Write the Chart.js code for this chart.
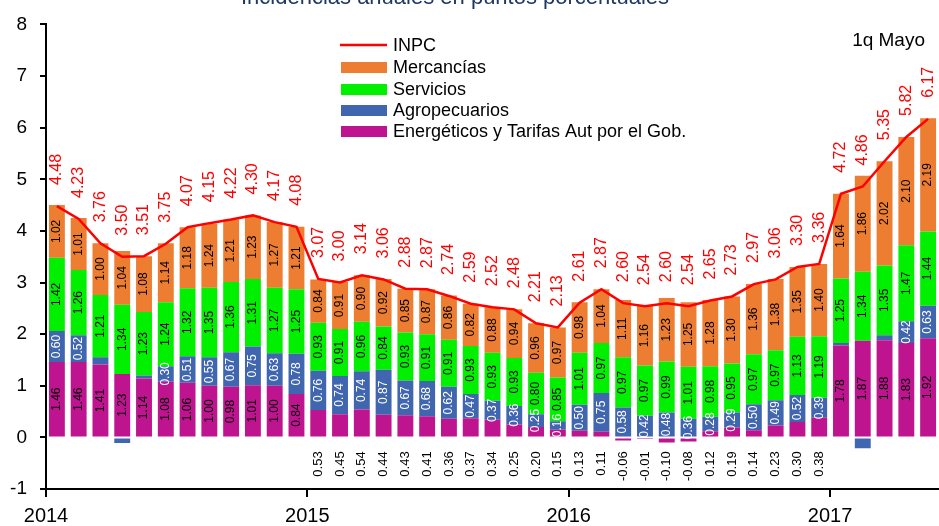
<!DOCTYPE html>
<html>
<head>
<meta charset="utf-8">
<script src="https://cdn.jsdelivr.net/npm/chart.js@4.4.1/dist/chart.umd.min.js"></script>
<style>
  html, body { margin: 0; padding: 0; background: #ffffff; }
  #wrap { width: 939px; height: 526px; position: relative; }
</style>
</head>
<body>
<div id="wrap"><canvas id="c" width="939" height="526"></canvas></div>
<script>
const categories = ['Ene-14','Feb-14','Mar-14','Abr-14','May-14','Jun-14','Jul-14','Ago-14','Sep-14','Oct-14','Nov-14','Dic-14',
  'Ene-15','Feb-15','Mar-15','Abr-15','May-15','Jun-15','Jul-15','Ago-15','Sep-15','Oct-15','Nov-15','Dic-15',
  'Ene-16','Feb-16','Mar-16','Abr-16','May-16','Jun-16','Jul-16','Ago-16','Sep-16','Oct-16','Nov-16','Dic-16',
  'Ene-17','Feb-17','Mar-17','Abr-17','1q May-17'];
const yearLabels = ['2014','2015','2016','2017'];
const yearTickValues = [-0.5, 11.5, 23.5, 35.5];

const inpc = [4.48,4.23,3.76,3.50,3.51,3.75,4.07,4.15,4.22,4.30,4.17,4.08,
  3.07,3.00,3.14,3.06,2.88,2.87,2.74,2.59,2.52,2.48,2.21,2.13,
  2.61,2.87,2.60,2.54,2.60,2.54,2.65,2.73,2.97,3.06,3.30,3.36,
  4.72,4.86,5.35,5.82,6.17];
const mercancias = [1.02,1.01,1.00,1.04,1.08,1.14,1.18,1.24,1.21,1.23,1.27,1.21,
  0.84,0.91,0.90,0.92,0.85,0.87,0.86,0.82,0.88,0.94,0.96,0.97,
  0.98,1.04,1.11,1.16,1.23,1.25,1.28,1.30,1.36,1.38,1.35,1.40,
  1.64,1.86,2.02,2.10,2.19];
const servicios = [1.42,1.26,1.21,1.34,1.23,1.24,1.32,1.35,1.36,1.31,1.27,1.25,
  0.93,0.91,0.96,0.84,0.93,0.91,0.91,0.93,0.93,0.93,0.80,0.85,
  1.01,0.97,0.97,0.97,0.99,1.01,0.98,0.95,0.97,0.97,1.13,1.19,
  1.25,1.34,1.35,1.47,1.44];
const agropecuarios = [0.60,0.52,0.14,-0.11,0.06,0.30,0.51,0.55,0.67,0.75,0.63,0.78,
  0.76,0.74,0.74,0.87,0.67,0.68,0.62,0.47,0.37,0.36,0.25,0.16,
  0.50,0.75,0.58,0.42,0.48,0.36,0.28,0.29,0.50,0.49,0.52,0.39,
  0.05,-0.21,0.10,0.42,0.63];
const energeticos = [1.46,1.46,1.41,1.23,1.14,1.08,1.06,1.00,0.98,1.01,1.00,0.84,
  0.53,0.45,0.54,0.44,0.43,0.41,0.36,0.37,0.34,0.25,0.20,0.15,
  0.13,0.11,-0.06,-0.01,-0.10,-0.08,0.12,0.19,0.14,0.23,0.30,0.38,
  1.78,1.87,1.88,1.83,1.92];

const COL = {
  inpc: '#FF0000',
  merc: '#ED7D31',
  serv: '#00F000',
  agro: '#4066B0',
  ener: '#BE1490'
};
const FONT = '"Liberation Sans", Arial, sans-serif';

const labelsPlugin = {
  id: 'valueLabels',
  afterDatasetsDraw(chart) {
    const ctx = chart.ctx;
    const y = chart.scales.y;
    const zeroPx = y.getPixelForValue(0);
    ctx.save();
    chart.data.datasets.forEach((ds, di) => {
      const meta = chart.getDatasetMeta(di);
      if (ds.type === 'line') {
        ctx.fillStyle = COL.inpc;
        ctx.font = '16px ' + FONT;
        ctx.textBaseline = 'middle';
        ctx.textAlign = 'left';
        meta.data.forEach((pt, i) => {
          ctx.save();
          ctx.translate(pt.x, pt.y - 21);
          ctx.rotate(-Math.PI / 2);
          ctx.fillText(inpc[i].toFixed(2), 0, 0);
          ctx.restore();
        });
        return;
      }
      meta.data.forEach((bar, i) => {
        const v = ds.data[i];
        const txt = v.toFixed(2);
        ctx.save();
        if (ds.key === 'ener' && Math.abs(v) < 0.6) {
          ctx.font = '13px ' + FONT;
          ctx.fillStyle = '#000000';
          ctx.textBaseline = 'middle';
          ctx.textAlign = 'right';
          ctx.translate(bar.x, zeroPx + 14);
          ctx.rotate(-Math.PI / 2);
          ctx.fillText(txt, 0, 0);
          ctx.restore();
          return;
        }
        if (ds.key === 'agro' && v < 0.15) { ctx.restore(); return; }
        ctx.font = '12px ' + FONT;
        ctx.fillStyle = ds.key === 'agro' ? '#FFFFFF' : '#000000';
        ctx.textBaseline = 'middle';
        ctx.textAlign = 'center';
        ctx.translate(bar.x, (bar.y + bar.base) / 2);
        ctx.rotate(-Math.PI / 2);
        ctx.fillText(txt, 0, 0);
        ctx.restore();
      });
    });
    ctx.restore();
  }
};

const decorPlugin = {
  id: 'decor',
  afterDraw(chart) {
    const ctx = chart.ctx;
    ctx.save();
    ctx.fillStyle = '#1F3864';
    ctx.font = '22px ' + FONT;
    ctx.textAlign = 'center';
    ctx.textBaseline = 'alphabetic';
    ctx.fillText('Incidencias anuales en puntos porcentuales', 455, 4);
    ctx.fillStyle = '#000000';
    ctx.font = '19px ' + FONT;
    ctx.textAlign = 'right';
    ctx.textBaseline = 'middle';
    ctx.fillText('1q Mayo', 925, 41);
    const items = [
      { t: 'INPC', c: COL.inpc, line: true, y: 45 },
      { t: 'Mercancías', c: COL.merc, y: 67 },
      { t: 'Servicios', c: COL.serv, y: 89 },
      { t: 'Agropecuarios', c: COL.agro, y: 110 },
      { t: 'Energéticos y Tarifas Aut por el Gob.', c: COL.ener, y: 131 }
    ];
    ctx.font = '18px ' + FONT;
    ctx.textAlign = 'left';
    items.forEach(it => {
      if (it.line) {
        ctx.strokeStyle = it.c;
        ctx.lineWidth = 2.5;
        ctx.beginPath();
        ctx.moveTo(340, it.y);
        ctx.lineTo(387, it.y);
        ctx.stroke();
      } else {
        ctx.fillStyle = it.c;
        ctx.fillRect(341, it.y - 5, 46, 11);
      }
      ctx.fillStyle = '#000000';
      ctx.fillText(it.t, 393, it.y + 1);
    });
    ctx.restore();
  }
};

const barBase = { type: 'bar', stack: 'comp', barPercentage: 0.73, categoryPercentage: 1.0, borderWidth: 0, order: 2 };

new Chart(document.getElementById('c'), {
  data: {
    labels: categories,
    datasets: [
      Object.assign({}, barBase, { key: 'ener', label: 'Energéticos y Tarifas Aut por el Gob.', data: energeticos, backgroundColor: COL.ener }),
      Object.assign({}, barBase, { key: 'agro', label: 'Agropecuarios', data: agropecuarios, backgroundColor: COL.agro }),
      Object.assign({}, barBase, { key: 'serv', label: 'Servicios', data: servicios, backgroundColor: COL.serv }),
      Object.assign({}, barBase, { key: 'merc', label: 'Mercancías', data: mercancias, backgroundColor: COL.merc }),
      { type: 'line', key: 'inpc', label: 'INPC', data: inpc, stack: 'line', borderColor: COL.inpc, borderWidth: 2.5,
        pointRadius: 0, tension: 0, fill: false, order: 1 }
    ]
  },
  options: {
    responsive: false,
    animation: false,
    devicePixelRatio: 1,
    layout: { padding: { top: 19, left: 0, right: 0, bottom: 0 } },
    plugins: { legend: { display: false }, tooltip: { enabled: false }, title: { display: false } },
    scales: {
      x: { type: 'category', display: false, stacked: true, offset: true },
      x2: {
        type: 'linear', position: 'bottom', min: -0.5, max: 40.5,
        afterBuildTicks(axis) { axis.ticks = yearTickValues.map(v => ({ value: v })); },
        afterFit(axis) { axis.height = 37; },
        ticks: {
          autoSkip: false, maxRotation: 0, padding: 7, color: '#000000',
          font: { family: FONT, size: 20 },
          callback(v) { return yearLabels[Math.round((v + 0.5) / 12)]; }
        },
        grid: { drawOnChartArea: false, drawTicks: true, tickLength: 8, color: '#000000', lineWidth: 2 },
        border: { display: true, color: '#000000', width: 2 }
      },
      y: {
        stacked: true, min: -1, max: 8,
        afterFit(axis) { axis.width = 46; },
        ticks: { stepSize: 1, padding: 13, color: '#000000', font: { family: FONT, size: 19 } },
        grid: { drawOnChartArea: false, drawTicks: true, tickLength: 6, color: '#000000', lineWidth: 2 },
        border: { display: true, color: '#000000', width: 2 }
      }
    }
  },
  plugins: [labelsPlugin, decorPlugin]
});
</script>
</body>
</html>
